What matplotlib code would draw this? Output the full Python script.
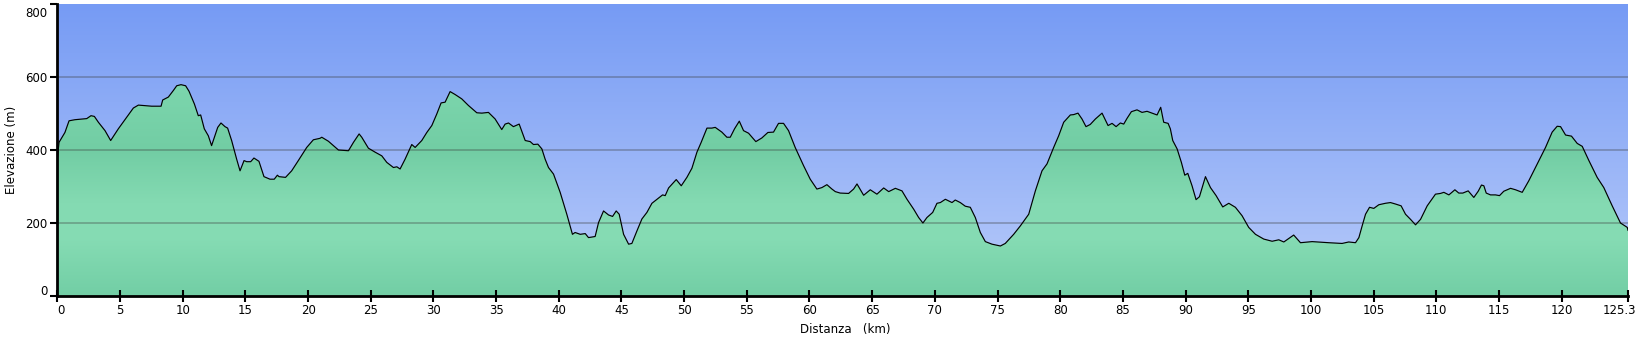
import numpy as np
import matplotlib
matplotlib.use("Agg")
import matplotlib.pyplot as plt
from matplotlib.patches import Polygon
from matplotlib.colors import LinearSegmentedColormap
import matplotlib.transforms as mtransforms

distance_km = [0.0, 0.13, 0.6, 0.93, 1.4, 2.34, 2.68, 2.95, 3.27, 3.8, 4.25, 4.86, 5.53, 6.06, 6.46, 7.52, 8.27, 8.4, 8.85, 9.25, 9.52, 9.86, 10.23, 10.5, 10.93, 11.24, 11.43, 11.72, 12.04, 12.3, 12.79, 13.05, 13.37, 13.58, 13.9, 14.3, 14.57, 14.89, 15.1, 15.42, 15.68, 16.08, 16.48, 16.96, 17.3, 17.55, 17.68, 18.2, 18.69, 19.22, 19.89, 20.42, 20.95, 21.09, 21.62, 22.42, 23.22, 23.62, 24.07, 24.28, 24.81, 25.35, 25.88, 26.28, 26.81, 27.08, 27.34, 27.74, 28.27, 28.54, 29.07, 29.47, 29.87, 30.27, 30.61, 30.93, 31.33, 31.73, 32.26, 32.79, 33.46, 33.86, 34.39, 34.92, 35.45, 35.72, 35.99, 36.38, 36.84, 37.32, 37.72, 37.98, 38.33, 38.65, 38.91, 39.18, 39.58, 40.11, 40.64, 41.09, 41.3, 41.71, 42.11, 42.37, 42.9, 43.17, 43.57, 43.97, 44.29, 44.58, 44.82, 45.17, 45.57, 45.83, 46.23, 46.63, 47.03, 47.43, 47.83, 48.28, 48.49, 48.76, 49.16, 49.37, 49.77, 50.22, 50.62, 51.02, 51.36, 51.82, 52.21, 52.48, 53.01, 53.41, 53.68, 54.02, 54.4, 54.74, 55.14, 55.72, 56.2, 56.68, 57.13, 57.53, 57.93, 58.33, 58.86, 59.53, 60.06, 60.59, 60.99, 61.39, 61.79, 62.06, 62.45, 63.12, 63.52, 63.79, 64.32, 64.85, 65.38, 65.92, 66.32, 66.85, 67.38, 67.78, 68.31, 68.71, 69.05, 69.37, 69.83, 70.17, 70.44, 70.84, 71.37, 71.63, 72.03, 72.43, 72.83, 73.23, 73.63, 74.03, 74.56, 75.23, 75.62, 76.29, 76.82, 77.49, 78.02, 78.55, 78.95, 79.48, 79.88, 80.28, 80.81, 81.08, 81.42, 81.74, 82.06, 82.4, 82.81, 83.34, 83.82, 84.14, 84.46, 84.8, 85.07, 85.34, 85.68, 86.13, 86.53, 86.93, 87.33, 87.73, 88.02, 88.26, 88.61, 88.79, 88.98, 89.33, 89.67, 89.94, 90.18, 90.52, 90.84, 91.11, 91.59, 91.99, 92.44, 92.97, 93.45, 93.98, 94.51, 95.04, 95.58, 96.24, 96.91, 97.44, 97.84, 98.63, 99.17, 100.1, 101.43, 102.49, 103.02, 103.56, 103.83, 104.09, 104.36, 104.68, 105.02, 105.42, 105.95, 106.35, 106.75, 107.2, 107.55, 107.95, 108.35, 108.75, 109.28, 109.94, 110.34, 110.61, 111.01, 111.49, 111.8, 112.12, 112.55, 113.0, 113.35, 113.61, 113.8, 113.99, 114.33, 114.73, 115.05, 115.39, 115.93, 116.33, 116.86, 117.39, 118.06, 118.72, 119.25, 119.65, 119.92, 120.32, 120.79, 121.25, 121.65, 122.18, 122.84, 123.37, 124.04, 124.7, 125.24, 125.3]

elevation_m = [378, 421, 448, 480, 483, 486, 494, 492, 476, 453, 426, 458, 490, 515, 523, 520, 520, 537, 545, 563, 576, 579, 576, 561, 526, 494, 496, 458, 439, 412, 462, 474, 464, 460, 426, 375, 343, 371, 368, 368, 378, 369, 327, 320, 320, 331, 327, 325, 343, 371, 407, 428, 432, 435, 424, 400, 398, 421, 444, 435, 405, 394, 384, 366, 352, 354, 348, 375, 415, 407, 426, 448, 467, 499, 529, 531, 560, 552, 540, 522, 502, 501, 503, 485, 456, 471, 474, 464, 471, 426, 423, 415, 416, 403, 375, 352, 334, 284, 224, 169, 174, 169, 171, 160, 163, 201, 233, 222, 218, 233, 224, 169, 142, 144, 178, 211, 229, 254, 265, 277, 275, 296, 311, 319, 302, 325, 350, 394, 421, 460, 460, 462, 449, 435, 435, 458, 479, 453, 446, 423, 433, 448, 449, 473, 473, 453, 407, 357, 320, 293, 297, 305, 293, 286, 282, 281, 293, 307, 276, 291, 279, 296, 286, 295, 288, 265, 238, 215, 200, 215, 229, 254, 256, 265, 256, 263, 256, 246, 243, 215, 174, 149, 142, 137, 144, 169, 192, 224, 288, 343, 362, 407, 439, 476, 496, 497, 501, 485, 464, 470, 485, 501, 467, 473, 464, 474, 471, 487, 505, 510, 503, 506, 501, 496, 517, 476, 473, 458, 426, 403, 366, 331, 336, 302, 264, 272, 327, 297, 275, 244, 254, 243, 220, 188, 169, 156, 150, 154, 148, 167, 146, 149, 146, 144, 148, 146, 160, 192, 224, 243, 240, 250, 254, 256, 252, 247, 224, 210, 195, 210, 247, 279, 281, 284, 277, 291, 282, 282, 288, 270, 287, 304, 302, 282, 277, 277, 275, 287, 295, 291, 284, 316, 362, 407, 449, 465, 464, 441, 438, 418, 410, 371, 325, 297, 247, 200, 188, 180]

x_ticks = [0, 5, 10, 15, 20, 25, 30, 35, 40, 45, 50, 55, 60, 65, 70, 75, 80, 85, 90, 95, 100, 105, 110, 115, 120, 125.3]
x_tick_labels = ["0", "5", "10", "15", "20", "25", "30", "35", "40", "45", "50", "55", "60", "65", "70", "75", "80", "85", "90", "95", "100", "105", "110", "115", "120", "125.3"]
y_ticks = [0, 200, 400, 600, 800]
y_tick_labels = ["0", "200", "400", "600", "800"]
x_label = "Distanza   (km)"
y_label = "Elevazione (m)"

W, H = 1636, 341
fig = plt.figure(figsize=(W / 100, H / 100), dpi=100)
ax = fig.add_axes([57.4 / W, (H - 296) / H, (1628 - 57.4) / W, (296 - 4) / H])

xmax = 125.3
ax.set_xlim(0, xmax)
ax.set_ylim(0, 800)

# sky gradient
sky = LinearSegmentedColormap.from_list("sky", [(0.0, "#b8cbfa"), (1.0, "#769bf4")])
grad = np.linspace(0, 1, 256).reshape(-1, 1)
ax.imshow(grad, extent=[0, xmax, 0, 800], origin="lower", aspect="auto",
          cmap=sky, zorder=0, interpolation="bilinear")

# terrain gradient (function of elevation)
terrain = LinearSegmentedColormap.from_list("terrain", [
    (0.0, "#72cea5"), (0.2, "#86dcb4"), (0.32, "#84dab2"),
    (0.5, "#72cda4"), (0.72, "#7cd6ad"), (1.0, "#86dcb4")])
im = ax.imshow(grad, extent=[0, xmax, 0, 800], origin="lower", aspect="auto",
               cmap=terrain, zorder=1, interpolation="bilinear")
xs = np.array(distance_km)
ys = np.array(elevation_m)
poly_xy = np.column_stack([np.r_[xs[0], xs, xs[-1]], np.r_[0, ys, 0]])
poly = Polygon(poly_xy, closed=True, facecolor="none", edgecolor="none", transform=ax.transData)
ax.add_patch(poly)
im.set_clip_path(poly)

# grid
for g in [200, 400, 600]:
    ax.axhline(g, color="#3a3a3a", alpha=0.4, lw=1.1, zorder=2)

ax.plot(xs, ys, color="black", lw=0.85, zorder=3)

for s in ["top", "right"]:
    ax.spines[s].set_visible(False)
for s in ["left", "bottom"]:
    ax.spines[s].set_linewidth(2)
    ax.spines[s].set_color("black")
    ax.spines[s].set_zorder(5)

ax.set_xticks(x_ticks)
ax.set_xticklabels(x_tick_labels)
ax.set_yticks(y_ticks)
ax.set_yticklabels(y_tick_labels)
ax.tick_params(axis="x", direction="inout", length=8, width=1.5, labelsize=8.5, pad=2, colors="black")
ax.tick_params(axis="y", direction="out", length=5, width=1.5, labelsize=8.5, pad=2, colors="black")

# keep first/last labels inside like the reference
xl = ax.get_xticklabels()
xl[0].set_transform(xl[0].get_transform() + mtransforms.ScaledTranslation(4 / 100, 0, fig.dpi_scale_trans))
xl[-1].set_horizontalalignment("right")
xl[-1].set_transform(xl[-1].get_transform() + mtransforms.ScaledTranslation(8 / 100, 0, fig.dpi_scale_trans))
yl = ax.get_yticklabels()
yl[0].set_transform(yl[0].get_transform() + mtransforms.ScaledTranslation(0, 6 / 100, fig.dpi_scale_trans))
yl[-1].set_transform(yl[-1].get_transform() + mtransforms.ScaledTranslation(0, -8 / 100, fig.dpi_scale_trans))

fig.text(845 / W, 1 - 329 / H, x_label, ha="center", va="center", fontsize=8.5)
fig.text(12 / W, 1 - 150 / H, y_label, ha="center", va="center", rotation=90, fontsize=8.5)

fig.savefig("out.png", dpi=100, facecolor="white")
